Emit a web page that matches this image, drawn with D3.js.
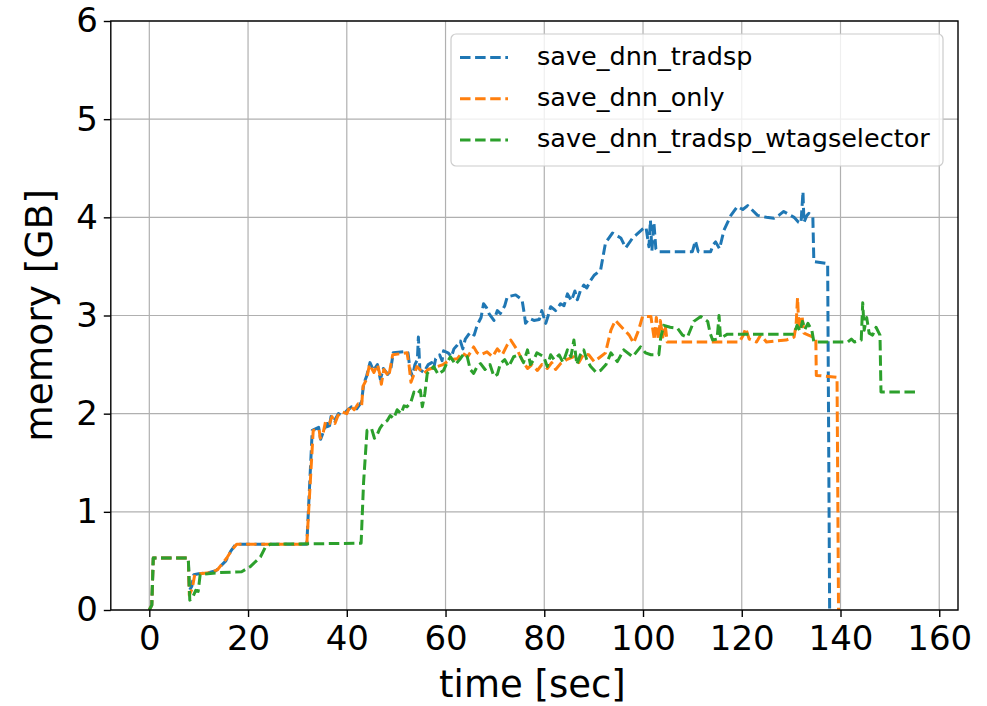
<!DOCTYPE html>
<html><head><meta charset="utf-8">
<script src="https://cdn.jsdelivr.net/npm/d3@7"></script>
<style>
html,body{margin:0;padding:0;background:#fff;}
svg{display:block;font-family:"DejaVu Sans",sans-serif;}
</style></head>
<body><svg id="chart" width="987" height="706"></svg>
<script>
const seriesNames = ["save_dnn_tradsp", "save_dnn_only", "save_dnn_tradsp_wtagselector"];
const seriesColors = ["#1f77b4", "#ff7f0e", "#2ca02c"];
const xTicks = [0, 20, 40, 60, 80, 100, 120, 140, 160];
const yTicks = [0, 1, 2, 3, 4, 5, 6];

const tradsp = [[0,0],[0.5,0.05],[0.8,0.53],[7.9,0.53],[8.1,0.2],[8.6,0.24],[9.0,0.36],[10,0.37],[12,0.38],[13.5,0.40],[14.5,0.45],[15.5,0.5],[16.5,0.6],[17.5,0.67],[31.9,0.67],[32.5,1.3],[33.0,1.83],[34.3,1.86],[34.7,1.74],[35.3,1.82],[36,1.9],[36.4,1.84],[36.8,1.97],[37.5,1.93],[38.3,2.0],[39,1.98],[40,2.03],[41,2.07],[42,2.05],[43,2.12],[43.4,2.3],[44,2.38],[44.7,2.52],[45.4,2.44],[46.2,2.5],[46.8,2.35],[47.4,2.46],[48.3,2.4],[48.9,2.45],[49.4,2.62],[51.5,2.63],[52.4,2.62],[52.8,2.45],[53.3,2.38],[53.8,2.5],[54.3,2.55],[54.5,2.78],[54.8,2.45],[55.6,2.42],[56.5,2.5],[57.2,2.52],[57.6,2.46],[58,2.56],[58.8,2.6],[59.3,2.54],[59.6,2.64],[60.5,2.62],[61.2,2.58],[61.7,2.66],[62.4,2.7],[63,2.74],[63.5,2.66],[64,2.76],[65,2.83],[65.8,2.8],[66.4,2.9],[67.2,2.98],[67.7,3.12],[68.3,3.08],[68.8,3.02],[69.8,2.95],[70.5,3.05],[71.1,3.02],[72,3.1],[72.5,3.19],[74.2,3.21],[75.5,3.16],[76,3.0],[76.2,2.92],[77,2.97],[77.9,2.95],[79,2.96],[79.5,3.05],[80.3,2.92],[80.8,3.0],[81.3,3.09],[82.3,3.05],[83.3,3.12],[84,3.1],[84.7,3.22],[85.5,3.15],[86.2,3.25],[86.7,3.16],[87.3,3.25],[88,3.31],[88.6,3.28],[89.3,3.35],[90.1,3.41],[91.4,3.46],[92.4,3.74],[93.8,3.84],[95.5,3.79],[96.5,3.69],[97.9,3.79],[99.9,3.88],[100.6,3.9],[101.2,3.7],[101.5,3.97],[101.8,3.66],[102.2,3.95],[102.6,3.68],[103,3.65],[110,3.65],[110.6,3.76],[111.2,3.65],[113.7,3.65],[114.2,3.72],[114.7,3.75],[115.5,3.68],[116.4,3.87],[117.8,4.02],[119.1,4.11],[120.2,4.08],[121.2,4.12],[122,4.08],[123.2,4.02],[125,4.0],[126.5,3.99],[127.5,4.02],[128.5,4.06],[129.5,4.03],[130.6,4.0],[131.5,3.95],[132,3.94],[132.4,4.26],[132.6,3.95],[133.2,4.02],[133.6,4.04],[134.4,4.0],[134.6,3.55],[137.4,3.53],[137.8,0.0]];

const dnnOnly = [[0,0],[0.5,0.05],[0.8,0.53],[7.9,0.53],[8.1,0.15],[8.7,0.22],[9.2,0.36],[10,0.37],[12.5,0.38],[13.8,0.41],[14.6,0.46],[15.7,0.53],[16.7,0.61],[17.7,0.67],[31.9,0.67],[32.6,1.3],[33.2,1.83],[34.4,1.84],[34.6,1.75],[35.2,1.8],[35.7,1.92],[36.5,1.9],[37,1.97],[37.6,1.9],[38.2,1.98],[39,2.02],[40,2.0],[40.7,2.08],[41.5,2.04],[42.3,2.1],[43,2.08],[43.3,2.28],[44,2.35],[44.6,2.5],[45.5,2.42],[46.2,2.5],[46.7,2.4],[47,2.3],[47.5,2.45],[48.5,2.38],[49.3,2.6],[52.2,2.62],[52.6,2.5],[53,2.32],[53.6,2.4],[54.2,2.48],[55.6,2.41],[56.5,2.45],[58.3,2.48],[59.5,2.5],[61,2.55],[62.4,2.56],[63.3,2.62],[64.5,2.58],[65.7,2.68],[66.4,2.62],[67.1,2.6],[68.4,2.63],[69.5,2.58],[70.5,2.66],[71.5,2.6],[72.5,2.7],[73.2,2.75],[74.5,2.65],[75.5,2.55],[76.6,2.46],[77.5,2.5],[78.6,2.44],[79.5,2.5],[80.6,2.46],[81.5,2.52],[82.3,2.45],[83.3,2.51],[84.5,2.55],[86,2.58],[87,2.52],[88,2.61],[89,2.6],[90.1,2.53],[91.4,2.58],[92.4,2.62],[93.5,2.85],[94.4,2.95],[95.5,2.89],[97.2,2.8],[98.1,2.72],[99.1,2.85],[99.9,2.99],[101.6,2.99],[102.3,2.75],[102.7,2.98],[103.1,2.76],[103.5,2.95],[104,2.78],[104.5,2.9],[104.9,2.73],[119.5,2.73],[120.3,2.8],[120.8,2.87],[121.5,2.76],[123,2.73],[123.8,2.8],[124.5,2.76],[125,2.73],[129,2.75],[130.6,2.78],[131,2.9],[131.3,3.18],[131.6,2.85],[132.2,3.0],[132.6,2.82],[133.5,2.8],[135,2.77],[135.1,2.39],[139.3,2.37],[139.6,0.0]];

const wtagselector = [[0,0],[0.5,0.05],[0.8,0.53],[7.9,0.53],[8.2,0.1],[8.7,0.12],[9.4,0.2],[9.9,0.19],[10.3,0.36],[13.9,0.38],[18.7,0.39],[20.4,0.44],[22.5,0.54],[23.5,0.64],[24.5,0.67],[42.9,0.68],[43.4,1.3],[44.1,1.83],[45,1.85],[45.6,1.75],[46.1,1.78],[46.7,1.85],[47.4,1.9],[48.2,1.93],[48.8,1.98],[49.5,1.95],[50.2,2.04],[51,2.0],[51.6,2.08],[52.2,2.07],[53,2.12],[53.6,2.22],[54.3,2.2],[54.9,2.24],[55.3,2.07],[55.8,2.2],[56.3,2.41],[57.6,2.48],[58.5,2.4],[59.6,2.44],[60.3,2.52],[61,2.58],[62,2.5],[63,2.56],[63.7,2.61],[64.4,2.58],[65,2.45],[65.7,2.41],[66.4,2.48],[67.1,2.51],[68,2.45],[69,2.5],[69.8,2.38],[70.5,2.4],[71.1,2.51],[72,2.55],[72.8,2.48],[73.8,2.58],[75,2.6],[75.8,2.52],[76.6,2.65],[77.2,2.5],[77.9,2.55],[78.5,2.62],[79.9,2.58],[80.6,2.48],[81.3,2.6],[82,2.55],[83,2.6],[83.8,2.52],[84.7,2.65],[85.4,2.58],[86,2.75],[86.6,2.5],[87.3,2.6],[88,2.65],[88.6,2.55],[89.4,2.48],[90.5,2.42],[91.4,2.44],[92.5,2.5],[93.5,2.62],[94.8,2.53],[96.1,2.65],[97.9,2.58],[99.5,2.68],[100.5,2.62],[101.6,2.6],[103.2,2.6],[103.6,2.78],[104.2,2.9],[105.5,2.88],[107,2.87],[108,2.8],[109,2.78],[110.3,2.94],[111.7,2.99],[113.1,2.94],[113.6,2.82],[114.1,2.75],[115,2.76],[115.4,3.0],[115.7,2.77],[117.1,2.81],[130.6,2.81],[131.2,2.9],[131.8,2.84],[132.3,2.94],[132.8,2.86],[133.4,2.92],[134.2,2.85],[134.6,2.73],[141.5,2.73],[142.2,2.76],[142.8,2.73],[144.2,2.75],[144.5,3.13],[144.8,2.85],[145.3,2.98],[145.8,2.82],[146.5,2.8],[147.2,2.88],[148,2.8],[148.2,2.22],[155.9,2.22]];

const allSeries = [tradsp, dnnOnly, wtagselector];

const svg = d3.select("#chart");
const M = {left: 110.8, right: 958, top: 21, bottom: 610};
const x = d3.scaleLinear().domain([-7.8, 163.8]).range([M.left, M.right]);
const y = d3.scaleLinear().domain([0, 6]).range([M.bottom, M.top]);

// grid
svg.append("g").selectAll("line").data(xTicks).join("line")
  .attr("x1", d => x(d)).attr("x2", d => x(d)).attr("y1", M.top).attr("y2", M.bottom)
  .attr("stroke", "#b0b0b0").attr("stroke-width", 1.2);
svg.append("g").selectAll("line").data(yTicks).join("line")
  .attr("y1", d => y(d)).attr("y2", d => y(d)).attr("x1", M.left).attr("x2", M.right)
  .attr("stroke", "#b0b0b0").attr("stroke-width", 1.2);

// lines
const line = d3.line().x(d => x(d[0])).y(d => y(d[1]));
svg.append("clipPath").attr("id", "clip").append("rect")
  .attr("x", M.left).attr("y", M.top).attr("width", M.right - M.left).attr("height", M.bottom - M.top);
allSeries.forEach((s, i) => {
  svg.append("path").datum(s).attr("d", line)
    .attr("fill", "none").attr("stroke", seriesColors[i]).attr("stroke-width", 3)
    .attr("stroke-dasharray", "10.5,4.6").attr("stroke-linejoin", "round")
    .attr("clip-path", "url(#clip)");
});

// axes
const xAxis = d3.axisBottom(x).tickValues(xTicks).tickSize(7).tickPadding(9).tickFormat(d3.format("d"));
const yAxis = d3.axisLeft(y).tickValues(yTicks).tickSize(7).tickPadding(6).tickFormat(d3.format("d"));
const gx = svg.append("g").attr("transform", `translate(0,${M.bottom})`).call(xAxis);
const gy = svg.append("g").attr("transform", `translate(${M.left},0)`).call(yAxis);
[gx, gy].forEach(g => {
  g.select(".domain").remove();
  g.selectAll(".tick line").attr("stroke", "#000").attr("stroke-width", 1.4);
  g.selectAll(".tick text").attr("font-size", 34).attr("fill", "#000").attr("font-family", "DejaVu Sans");
});

// frame
svg.append("rect").attr("x", M.left).attr("y", M.top).attr("width", M.right - M.left).attr("height", M.bottom - M.top)
  .attr("fill", "none").attr("stroke", "#000").attr("stroke-width", 1.4);

// axis labels
svg.append("text").attr("x", (M.left + M.right) / 2 - 2).attr("y", 697).attr("text-anchor", "middle")
  .attr("font-size", 37).text("time [sec]");
svg.append("text").attr("transform", `translate(52,${(M.top + M.bottom) / 2}) rotate(-90)`)
  .attr("text-anchor", "middle").attr("font-size", 37.5).text("memory [GB]");

// legend
const lg = svg.append("g");
lg.append("rect").attr("x", 451).attr("y", 34).attr("width", 492).attr("height", 132).attr("rx", 5)
  .attr("fill", "#fff").attr("fill-opacity", 0.8).attr("stroke", "#cccccc").attr("stroke-width", 1.2);
seriesNames.forEach((n, i) => {
  const by = 64.5 + i * 41.3;
  lg.append("line").attr("x1", 460).attr("x2", 508).attr("y1", by - 7).attr("y2", by - 7)
    .attr("stroke", seriesColors[i]).attr("stroke-width", 3).attr("stroke-dasharray", "10.5,4.6");
  lg.append("text").attr("x", 537).attr("y", by).attr("font-size", 25.5).attr("fill", "#000").text(n);
});
</script>
</body></html>
